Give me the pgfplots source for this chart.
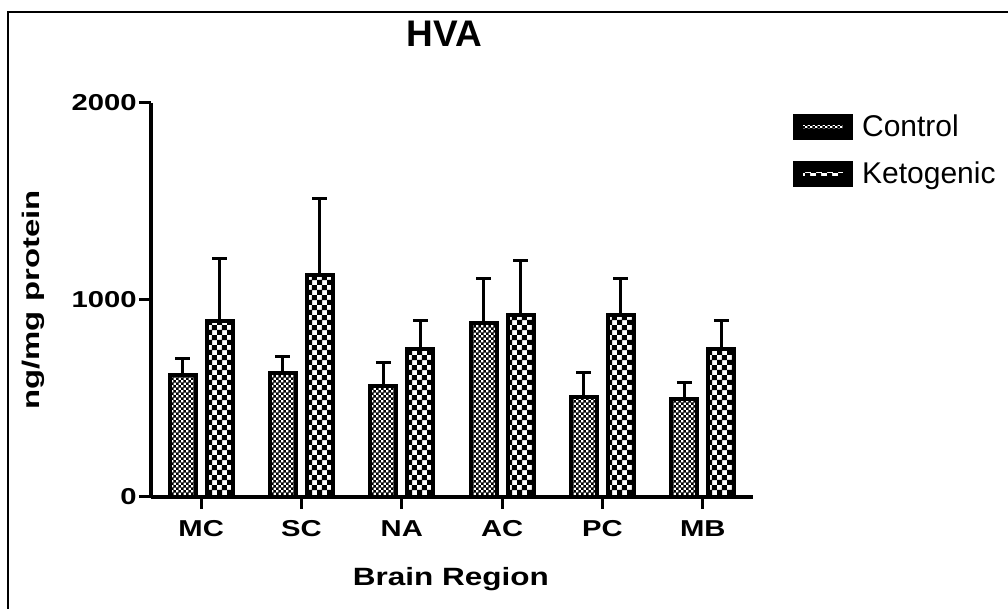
\documentclass[border=0pt]{standalone}
\usepackage{fontspec}
\setmainfont{Liberation Sans}
\usepackage{graphicx}
\usepackage{pgfplots}
\pgfplotsset{compat=1.18}
\usetikzlibrary{patterns.meta}
\pgfdeclarepattern{name=checkK, type=uncolored,
  bottom left={\pgfpoint{0pt}{0pt}}, top right={\pgfpoint{5.2pt}{5.2pt}},
  tile size={\pgfpoint{5.2pt}{5.2pt}},
  code={\pgfpathrectangle{\pgfpoint{0pt}{0pt}}{\pgfpoint{2.7pt}{2.7pt}}
        \pgfpathrectangle{\pgfpoint{2.6pt}{2.6pt}}{\pgfpoint{2.7pt}{2.7pt}}
        \pgfusepath{fill}}}
\pgfdeclarepattern{name=checkC, type=uncolored,
  bottom left={\pgfpoint{0pt}{0pt}}, top right={\pgfpoint{2.6pt}{2.6pt}},
  tile size={\pgfpoint{2.6pt}{2.6pt}},
  code={\pgfpathrectangle{\pgfpoint{0pt}{0pt}}{\pgfpoint{1.55pt}{1.55pt}}
        \pgfpathrectangle{\pgfpoint{1.3pt}{1.3pt}}{\pgfpoint{1.55pt}{1.55pt}}
        \pgfusepath{fill}}}
\newcommand{\sx}[1]{\scalebox{1.27}[1]{#1}}
\begin{document}
\begin{tikzpicture}
\useasboundingbox (0,0) rectangle (504pt,304.5pt);
\draw[line width=0.8pt] (4pt,0) -- (4pt,298.5pt) -- (504pt,298.5pt);
\begin{axis}[
  at={(75.5pt,56pt)}, anchor=south west,
  scale only axis, width=301pt, height=197pt,
  xmin=-0.5, xmax=5.5, ymin=0, ymax=2000,
  axis x line=bottom, axis y line=left,
  axis line style={-, line width=2pt, black},
  xtick={0,1,2,3,4,5},
  xticklabels={\sx{MC},\sx{SC},\sx{NA},\sx{AC},\sx{PC},\sx{MB}},
  ytick={0,1000,2000},
  yticklabels={\sx{0},\sx{1000},\sx{2000}},
  tick align=outside, major tick length=6pt,
  tick style={line width=1.5pt, black},
  ticklabel style={font=\bfseries\fontsize{11.5}{13}\selectfont},
  yticklabel style={inner sep=1pt},
  xticklabel style={inner sep=2pt, yshift=-3.5pt},
  title={HVA},
  title style={at={(0.487,1.145)}, anchor=center, font=\bfseries\fontsize{18.5}{20}\selectfont},
  xlabel={\scalebox{1.26}[1]{Brain Region}},
  xlabel style={at={(0.498,-0.208)}, anchor=center, font=\bfseries\fontsize{12.5}{14}\selectfont},
  ylabel={\scalebox{1.37}[1]{ng/mg protein}},
  ylabel style={at={(-0.196,0.5)}, anchor=center, font=\bfseries\fontsize{12}{14}\selectfont},
  ybar, bar width=13pt,
  legend style={at={(1.066,0.972)}, anchor=north west, draw=none, fill=none,
    inner sep=0pt, font=\fontsize{15}{17}\selectfont, row sep=10.5pt,
    nodes={inner sep=0pt},
    /tikz/every odd column/.style={column sep=4.5pt}},
  legend cell align=left,
  error bars/y dir=plus, error bars/y explicit,
  error bars/error bar style={line width=1.5pt, black},
  error bars/error mark options={rotate=90, line width=1.5pt, mark size=3.75pt, black},
]
\addplot[draw=black, line width=2pt, pattern={checkC}, pattern color=black, bar shift=-9.25pt,
  legend image code/.code={\fill[black] (0pt,-5.6pt) rectangle (28pt,5.4pt);
     \fill[white] (3pt,-1.8pt) rectangle (25pt,2.2pt);
     \fill[pattern={checkC}, pattern color=black] (3pt,-1.8pt) rectangle (25pt,2.2pt);}]
  coordinates {(0,620) +- (0,83) (1,630) +- (0,83) (2,565) +- (0,117) (3,883) +- (0,226) (4,508) +- (0,124) (5,498) +- (0,83)};
\addlegendentry{Control}
\addplot[draw=black, line width=2pt, pattern={checkK}, pattern color=black, bar shift=9.25pt,
  legend image code/.code={\fill[black] (0pt,-5.6pt) rectangle (28pt,5.4pt);
     \fill[white] (3pt,-1.8pt) rectangle (25pt,2.2pt);
     \fill[pattern={checkK}, pattern color=black] (3pt,-1.8pt) rectangle (25pt,2.2pt);}]
  coordinates {(0,894) +- (0,316) (1,1127) +- (0,388) (2,751) +- (0,145) (3,924) +- (0,276) (4,924) +- (0,185) (5,751) +- (0,145)};
\addlegendentry{Ketogenic}
\end{axis}
\end{tikzpicture}
\end{document}
